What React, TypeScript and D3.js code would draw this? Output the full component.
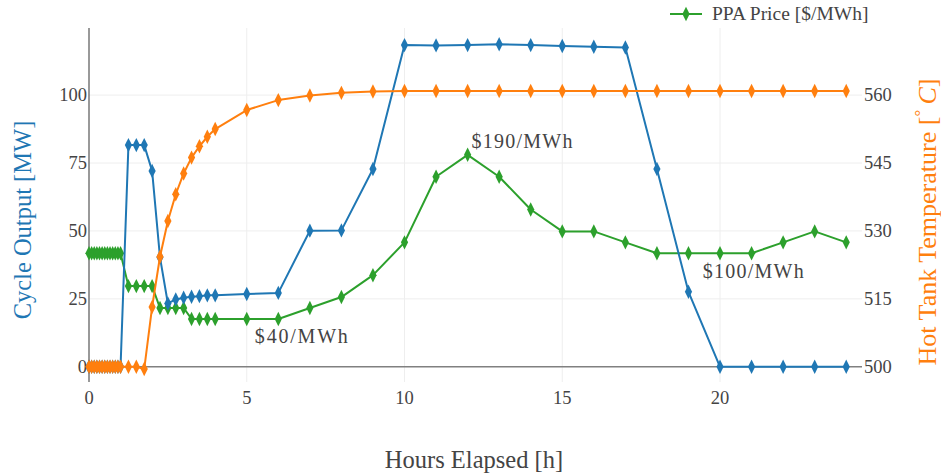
import React, { useEffect, useRef } from "react";
import * as d3 from "d3";

// ---- data ----
const denseHours = [0, 1 / 12, 2 / 12, 3 / 12, 4 / 12, 5 / 12, 6 / 12, 7 / 12, 8 / 12, 9 / 12, 10 / 12, 11 / 12, 1];
const quarterHours = [1.25, 1.5, 1.75, 2, 2.25, 2.5, 2.75, 3, 3.25, 3.5, 3.75, 4];
const hourlyHours = [5, 6, 7, 8, 9, 10, 11, 12, 13, 14, 15, 16, 17, 18, 19, 20, 21, 22, 23, 24];
const hours = [...denseHours, ...quarterHours, ...hourlyHours];

const cycleOutput = [
  0, 0, 0, 0, 0, 0, 0, 0, 0, 0, 0, 0, 0,
  81.6, 81.6, 81.6, 72.1, 40.3, 23.3, 24.8, 25.4, 25.8, 26.0, 26.3, 26.3,
  26.8, 27.2, 50.1, 50.2, 72.8, 118.4, 118.3, 118.4, 118.7, 118.4, 118.1, 117.8, 117.5, 72.8, 27.6, 0, 0, 0, 0, 0,
];

const hotTankTemp = [
  500, 500, 500, 500, 500, 500, 500, 500, 500, 500, 500, 500, 500,
  500, 500, 499.5, 513.2, 524.3, 532.2, 538.1, 542.7, 546.2, 548.7, 550.8, 552.5,
  556.7, 558.9, 559.9, 560.5, 560.8, 560.9, 560.9, 560.9, 560.9, 560.9, 560.9, 560.9, 560.9, 560.9, 560.9, 560.9, 560.9, 560.9, 560.9, 560.9,
];

const ppaPrice = [
  100, 100, 100, 100, 100, 100, 100, 100, 100, 100, 100, 100, 100,
  70, 70, 70, 70, 50, 50, 50, 50, 40, 40, 40, 40,
  40, 40, 50, 60, 80, 110, 170, 190, 170, 140, 120, 120, 110, 100, 100, 100, 100, 110, 120, 110,
];

const xTicks = [0, 5, 10, 15, 20];
const leftTicks = [0, 25, 50, 75, 100];
const rightTicks = [500, 515, 530, 545, 560];

const annotationText = ["$40/MWh", "$190/MWh", "$100/MWh"];
const annotationHour = [6.73, 13.72, 21.05];
const annotationMW = [11.2, 83.2, 35.4];

const BLUE = "#1f77b4";
const ORANGE = "#ff7f0e";
const GREEN = "#2ca02c";
const FONT = "'Liberation Serif', 'Times New Roman', serif";

const W = 941;
const H = 476;
const M = { left: 89, right: 862, top: 28, bottom: 382 };

function diamondPath(cx: number, cy: number) {
  const w = 3.6, h = 7.2;
  return `M${cx},${cy - h}L${cx + w},${cy}L${cx},${cy + h}L${cx - w},${cy}Z`;
}

export default function App() {
  const ref = useRef<SVGSVGElement>(null);

  useEffect(() => {
    const svg = d3.select(ref.current);
    svg.selectAll("*").remove();

    const x = d3.scaleLinear().domain([0, 24.5]).range([M.left, M.right]);
    const yL = d3.scaleLinear().domain([-5.6, 124.7]).range([M.bottom, M.top]);
    const yR = d3.scaleLinear().domain([496.64, 574.82]).range([M.bottom, M.top]);
    const yP = d3.scaleLinear().domain([-17.63, 305.9]).range([M.bottom, M.top]);

    // grid
    const g = svg.append("g");
    xTicks.forEach((t) => {
      if (t === 0) return;
      g.append("line").attr("x1", x(t)).attr("x2", x(t)).attr("y1", M.top).attr("y2", M.bottom)
        .attr("stroke", "#eee").attr("stroke-width", 1);
    });
    leftTicks.forEach((t) => {
      if (t === 0) return;
      g.append("line").attr("x1", M.left).attr("x2", M.right).attr("y1", yL(t)).attr("y2", yL(t))
        .attr("stroke", "#eee").attr("stroke-width", 1);
    });
    // zeroline
    g.append("line").attr("x1", M.left).attr("x2", M.right).attr("y1", yL(0)).attr("y2", yL(0))
      .attr("stroke", "#808080").attr("stroke-width", 1.5);
    // left axis line
    g.append("line").attr("x1", M.left).attr("x2", M.left).attr("y1", M.top).attr("y2", M.bottom)
      .attr("stroke", "#777").attr("stroke-width", 1.5);

    // tick labels
    const ticksG = svg.append("g").attr("font-family", FONT).attr("font-size", 18.5).attr("fill", "#444");
    xTicks.forEach((t) => {
      ticksG.append("text").attr("x", x(t)).attr("y", 404).attr("text-anchor", "middle").text(String(t));
    });
    leftTicks.forEach((t) => {
      ticksG.append("text").attr("x", 87).attr("y", yL(t) + 6).attr("text-anchor", "end").text(String(t));
    });
    rightTicks.forEach((t) => {
      ticksG.append("text").attr("x", 864).attr("y", yR(t) + 6).attr("text-anchor", "start").text(String(t));
    });

    // series
    const series = [
      { vals: ppaPrice, scale: yP, color: GREEN },
      { vals: cycleOutput, scale: yL, color: BLUE },
      { vals: hotTankTemp, scale: yR, color: ORANGE },
    ];
    series.forEach((s) => {
      const pts: [number, number][] = hours.map((h, i) => [x(h), s.scale(s.vals[i])]);
      const line = d3.line();
      svg.append("path").attr("d", line(pts) as string).attr("fill", "none")
        .attr("stroke", s.color).attr("stroke-width", 2).attr("stroke-linejoin", "round");
      svg.append("g").selectAll("path").data(pts).join("path")
        .attr("d", (p) => diamondPath(p[0], p[1])).attr("fill", s.color);
    });

    // annotations
    const ann = svg.append("g").attr("font-family", FONT).attr("font-size", 20).attr("fill", "#444");
    annotationText.forEach((t, i) => {
      ann.append("text").attr("x", x(annotationHour[i])).attr("y", yL(annotationMW[i]) + 7)
        .attr("text-anchor", "middle")
        .attr("textLength", t.length === 7 ? 93 : 101).attr("lengthAdjust", "spacing")
        .text(t);
    });

    // axis titles
    svg.append("text").attr("transform", "translate(31,220) rotate(-90)")
      .attr("text-anchor", "middle").attr("font-family", FONT).attr("font-size", 24.5)
      .attr("fill", BLUE).text("Cycle Output [MW]");
    const rt = svg.append("text").attr("transform", "translate(936,222) rotate(-90)")
      .attr("text-anchor", "middle").attr("font-family", FONT).attr("font-size", 26)
      .attr("fill", ORANGE);
    rt.append("tspan").text("Hot Tank Temperature [");
    rt.append("tspan").attr("font-size", 17).attr("dy", -10).text("\u00b0");
    rt.append("tspan").attr("dy", 10).attr("font-style", "italic").text("\u2009C");
    rt.append("tspan").text("]");

    svg.append("text").attr("x", 474).attr("y", 468).attr("text-anchor", "middle")
      .attr("font-family", FONT).attr("font-size", 24.5).attr("fill", "#444").text("Hours Elapsed [h]");

    // legend
    const lg = svg.append("g");
    lg.append("line").attr("x1", 670).attr("x2", 702).attr("y1", 14).attr("y2", 14)
      .attr("stroke", GREEN).attr("stroke-width", 2);
    lg.append("path").attr("d", diamondPath(686, 14)).attr("fill", GREEN);
    lg.append("text").attr("x", 712).attr("y", 20).attr("font-family", FONT).attr("font-size", 19.5)
      .attr("fill", "#444").text("PPA Price [$/MWh]");
  }, []);

  return (
    <svg ref={ref} width={W} height={H} style={{ position: "absolute", left: 0, top: 0, background: "#fff" }} />
  );
}
